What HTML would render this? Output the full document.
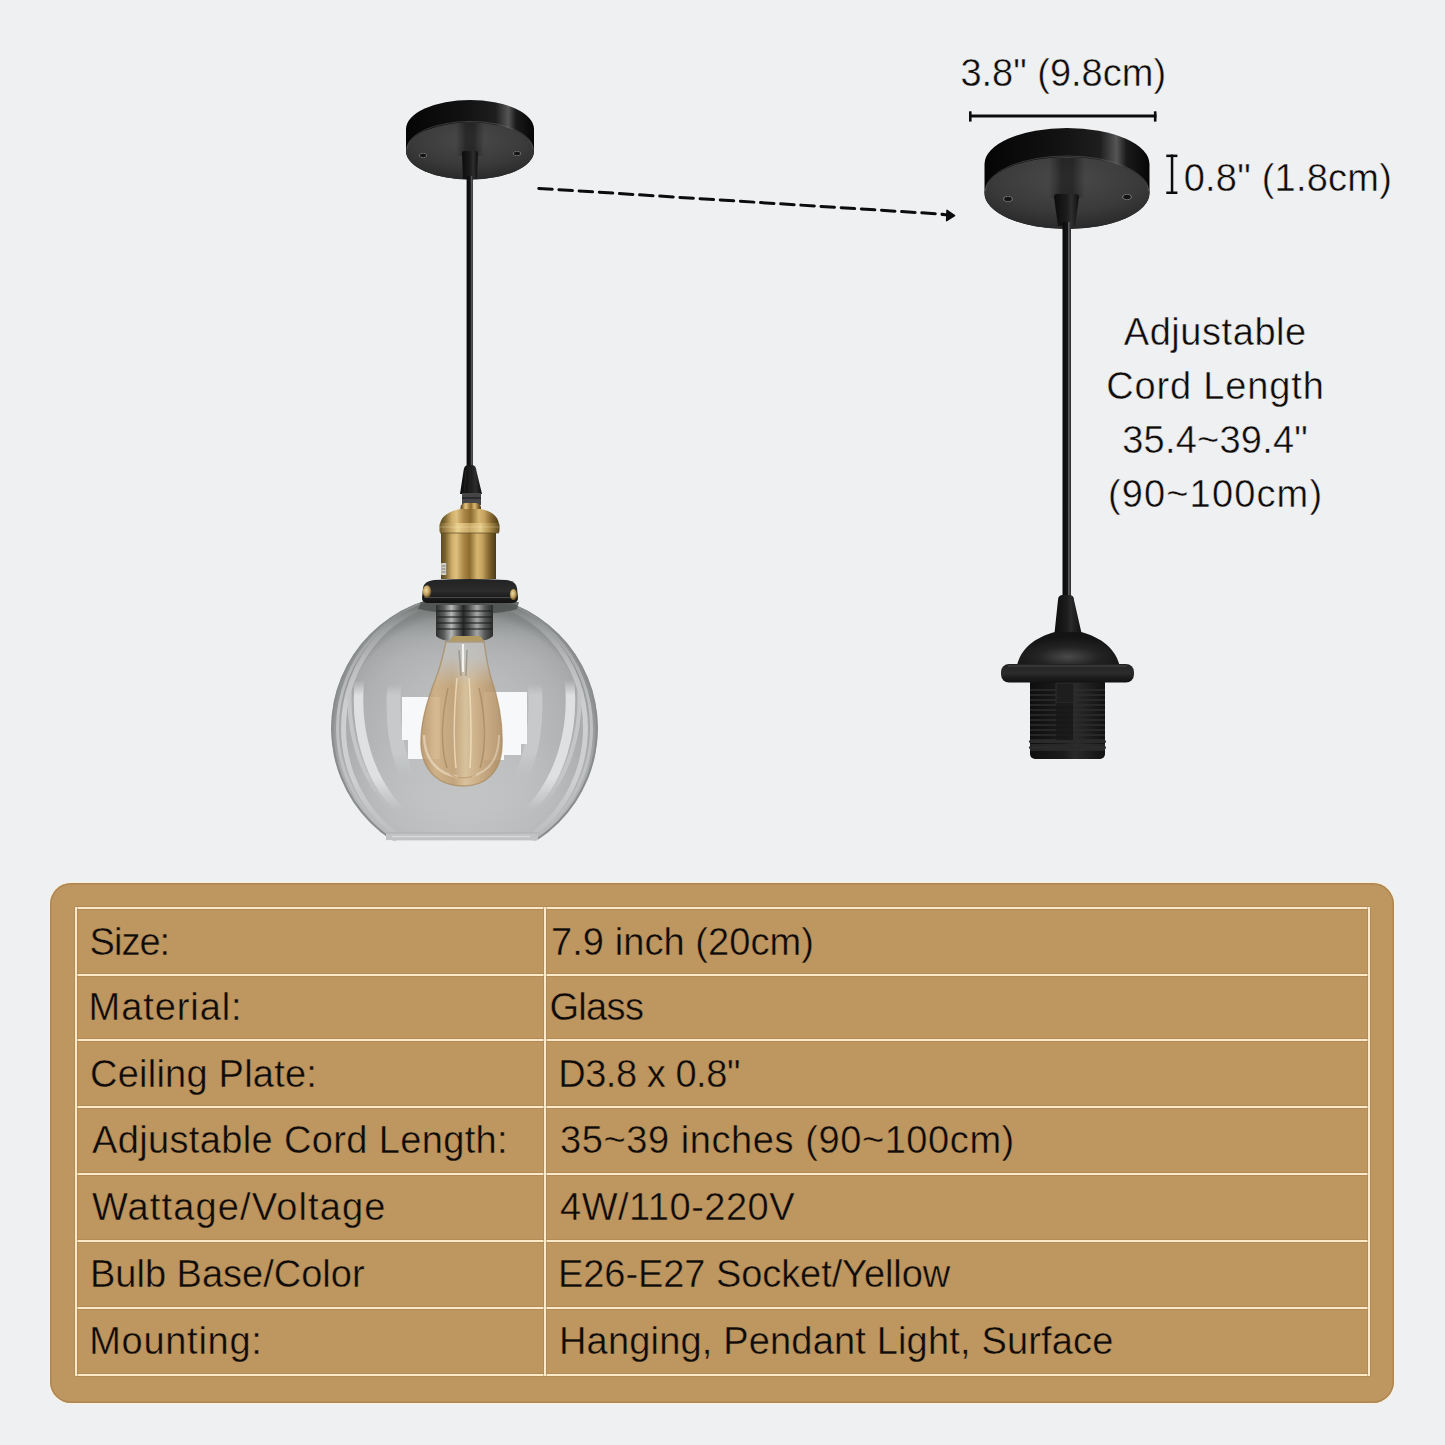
<!DOCTYPE html>
<html><head><meta charset="utf-8"><title>Pendant Light Specifications</title>
<style>
html,body{margin:0;padding:0}
body{width:1445px;height:1445px;background:#eff0f2;position:relative;overflow:hidden;font-family:"Liberation Sans",sans-serif;color:#0e0b08}
#art{position:absolute;left:0;top:0}
.t{position:absolute;font-size:38px;line-height:38px;white-space:pre;-webkit-text-stroke:0.45px #eff0f2;paint-order:normal}
.tb{-webkit-text-stroke:0.45px #be9660}
.panel{position:absolute;left:50px;top:883px;width:1344px;height:520px;border-radius:21px;background:#be9660;box-shadow:0 0 0 1px #fcf1dc,inset 0 0 0 1.5px rgba(160,122,74,.55)}
.hl{position:absolute;left:75px;width:1295px;height:2px;background:#fce9c8;box-shadow:0 -1px 0 rgba(165,128,80,.45),0 1px 0 rgba(165,128,80,.45)}
.vl{position:absolute;top:907px;width:2px;height:469px;background:#fce9c8;box-shadow:-1px 0 0 rgba(165,128,80,.45),1px 0 0 rgba(165,128,80,.45)}
</style></head>
<body>
<svg id="art" width="1445" height="1445" viewBox="0 0 1445 1445">
<defs>
<linearGradient id="band" x1="0" x2="1" y1="0" y2="0">
 <stop offset="0" stop-color="#050505"/><stop offset="0.45" stop-color="#121212"/>
 <stop offset="0.7" stop-color="#1e1e1e"/><stop offset="0.8" stop-color="#555"/>
 <stop offset="0.86" stop-color="#1a1a1a"/><stop offset="1" stop-color="#060606"/>
</linearGradient>
<radialGradient id="face" cx="0.5" cy="0.3" r="0.75">
 <stop offset="0" stop-color="#4a4a4a"/><stop offset="0.6" stop-color="#3a3a3a"/><stop offset="1" stop-color="#262626"/>
</radialGradient>
<linearGradient id="cord" x1="0" x2="1" y1="0" y2="0">
 <stop offset="0" stop-color="#0a0a0b"/><stop offset="0.6" stop-color="#141416"/>
 <stop offset="0.72" stop-color="#606062"/><stop offset="0.9" stop-color="#3a3a3c"/><stop offset="1" stop-color="#222"/>
</linearGradient>
<linearGradient id="grip" x1="0" x2="1" y1="0" y2="0">
 <stop offset="0" stop-color="#0c0c0c"/><stop offset="0.5" stop-color="#1c1c1c"/>
 <stop offset="0.7" stop-color="#2e2e2e"/><stop offset="1" stop-color="#0e0e0e"/>
</linearGradient>
<linearGradient id="brass" x1="0" x2="1" y1="0" y2="0">
 <stop offset="0" stop-color="#5a4822"/><stop offset="0.08" stop-color="#7a6430"/>
 <stop offset="0.2" stop-color="#cfae6a"/><stop offset="0.28" stop-color="#dfc07e"/>
 <stop offset="0.4" stop-color="#ae8a48"/><stop offset="0.52" stop-color="#8c6c30"/>
 <stop offset="0.66" stop-color="#d6b670"/><stop offset="0.75" stop-color="#c6a260"/>
 <stop offset="0.88" stop-color="#7e622a"/><stop offset="1" stop-color="#4a3a18"/>
</linearGradient>
<linearGradient id="ring" x1="0" x2="0" y1="0" y2="1">
 <stop offset="0" stop-color="#222"/><stop offset="0.5" stop-color="#2c2c2c"/><stop offset="0.75" stop-color="#1c1c1c"/><stop offset="1" stop-color="#121212"/>
</linearGradient>
<radialGradient id="glass" cx="0.5" cy="0.55" r="0.5">
 <stop offset="0" stop-color="#c1c3c4"/><stop offset="0.55" stop-color="#b7b9ba"/>
 <stop offset="0.8" stop-color="#afb1b2"/><stop offset="0.94" stop-color="#a6a8a9"/><stop offset="1" stop-color="#909294"/>
</radialGradient>
<linearGradient id="bulb" x1="0" x2="1" y1="0" y2="0">
 <stop offset="0" stop-color="#b0824a"/><stop offset="0.18" stop-color="#d2aa70"/>
 <stop offset="0.4" stop-color="#c39860"/><stop offset="0.55" stop-color="#e0c08c"/>
 <stop offset="0.75" stop-color="#c89e66"/><stop offset="1" stop-color="#a67a44"/>
</linearGradient>
<linearGradient id="chrome" x1="0" x2="1" y1="0" y2="0">
 <stop offset="0" stop-color="#2e3030"/><stop offset="0.14" stop-color="#5a5c5c"/>
 <stop offset="0.27" stop-color="#b6b8b8"/><stop offset="0.37" stop-color="#6a6c6c"/>
 <stop offset="0.48" stop-color="#262626"/><stop offset="0.58" stop-color="#505252"/>
 <stop offset="0.72" stop-color="#a6a8a8"/><stop offset="0.86" stop-color="#555757"/><stop offset="1" stop-color="#2a2c2c"/>
</linearGradient>
<linearGradient id="sock" x1="0" x2="1" y1="0" y2="0">
 <stop offset="0" stop-color="#0e0e0e"/><stop offset="0.45" stop-color="#1c1c1c"/>
 <stop offset="0.6" stop-color="#2a2a2a"/><stop offset="1" stop-color="#111"/>
</linearGradient>
<radialGradient id="dome" cx="0.5" cy="0.75" r="0.6">
 <stop offset="0" stop-color="#4a4a4a"/><stop offset="0.5" stop-color="#232323"/><stop offset="1" stop-color="#141414"/>
</radialGradient>
<linearGradient id="brass2" x1="0" x2="1" y1="0" y2="0">
 <stop offset="0" stop-color="#6e5a2c"/><stop offset="0.15" stop-color="#b89858"/>
 <stop offset="0.3" stop-color="#ead08e"/><stop offset="0.5" stop-color="#c8a866"/>
 <stop offset="0.68" stop-color="#e6cc8a"/><stop offset="0.85" stop-color="#a88a48"/><stop offset="1" stop-color="#5a4820"/>
</linearGradient>
<radialGradient id="screw" cx="0.4" cy="0.4" r="0.6">
 <stop offset="0" stop-color="#f0dca0"/><stop offset="0.6" stop-color="#c0a060"/><stop offset="1" stop-color="#6a5428"/>
</radialGradient>
<linearGradient id="gshade" x1="0" x2="0" y1="0" y2="1">
 <stop offset="0" stop-color="#4e5350" stop-opacity="0.9"/><stop offset="0.06" stop-color="#6a6f6c" stop-opacity="0.6"/>
 <stop offset="0.16" stop-color="#8a8e8c" stop-opacity="0.15"/><stop offset="0.25" stop-color="#9a9c9c" stop-opacity="0"/><stop offset="1" stop-color="#9a9c9c" stop-opacity="0"/>
</linearGradient>
<linearGradient id="shadow" x1="0" x2="1" y1="0" y2="0">
 <stop offset="0" stop-color="#111" stop-opacity="0"/><stop offset="0.35" stop-color="#111" stop-opacity="0.55"/>
 <stop offset="0.65" stop-color="#111" stop-opacity="0.55"/><stop offset="1" stop-color="#111" stop-opacity="0"/>
</linearGradient>
<radialGradient id="hole" cx="0.5" cy="0.5" r="0.5">
 <stop offset="0" stop-color="#111"/><stop offset="0.6" stop-color="#181818"/><stop offset="0.8" stop-color="#777"/><stop offset="1" stop-color="#444" stop-opacity="0"/>
</radialGradient>
<linearGradient id="bandfade" x1="0" x2="0" y1="0" y2="1">
 <stop offset="0" stop-color="#fff"/><stop offset="0.62" stop-color="#fff"/><stop offset="0.88" stop-color="#fff" stop-opacity="0.25"/><stop offset="1" stop-color="#fff" stop-opacity="0.1"/>
</linearGradient>
<mask id="bandmask" maskUnits="userSpaceOnUse" x="300" y="590" width="330" height="260"><rect x="300" y="595" width="330" height="246" fill="url(#bandfade)"/></mask>
<linearGradient id="fOuter" x1="0" x2="0" y1="0" y2="1">
 <stop offset="0" stop-color="#fff" stop-opacity="0"/><stop offset="0.25" stop-color="#fff" stop-opacity="0.6"/><stop offset="0.45" stop-color="#fff"/>
 <stop offset="0.75" stop-color="#fff"/><stop offset="1" stop-color="#fff" stop-opacity="0.2"/>
</linearGradient>
<linearGradient id="fArc" x1="0" x2="0" y1="0" y2="1">
 <stop offset="0" stop-color="#fff" stop-opacity="0"/><stop offset="0.12" stop-color="#fff"/><stop offset="0.75" stop-color="#fff"/><stop offset="1" stop-color="#fff" stop-opacity="0"/>
</linearGradient>
<mask id="mOuter" maskUnits="userSpaceOnUse" x="300" y="590" width="330" height="260"><rect x="300" y="600" width="330" height="240" fill="url(#fOuter)"/></mask>
<mask id="mArc" maskUnits="userSpaceOnUse" x="300" y="590" width="330" height="260"><rect x="300" y="680" width="330" height="130" fill="url(#fArc)"/></mask>
<mask id="mInner" maskUnits="userSpaceOnUse" x="300" y="590" width="330" height="260"><rect x="300" y="684" width="330" height="92" fill="url(#fArc)"/></mask>
<linearGradient id="glow" x1="0" x2="0" y1="0" y2="1">
 <stop offset="0" stop-color="#fff" stop-opacity="0"/><stop offset="0.6" stop-color="#fff" stop-opacity="0.12"/><stop offset="1" stop-color="#fff" stop-opacity="0.16"/>
</linearGradient>
<linearGradient id="fBulb" x1="0" x2="0" y1="0" y2="1">
 <stop offset="0" stop-color="#fff" stop-opacity="0"/><stop offset="0.12" stop-color="#fff" stop-opacity="0.15"/><stop offset="0.3" stop-color="#fff"/><stop offset="1" stop-color="#fff"/>
</linearGradient>
<mask id="mBulb" maskUnits="userSpaceOnUse" x="410" y="640" width="100" height="150"><rect x="410" y="640" width="100" height="150" fill="url(#fBulb)"/></mask>
<clipPath id="gclip"><rect x="300" y="560" width="330" height="280.3"/></clipPath>
<clipPath id="gin"><circle cx="464.5" cy="728.3" r="133.4"/></clipPath>
</defs>

<!-- LEFT canopy -->
<path d="M406,129 A64,29 0 0 1 534,129 L534,151 A64,28.5 0 0 1 406,151 Z" fill="url(#band)"/>
<ellipse cx="470" cy="151" rx="64" ry="28.5" fill="url(#face)"/>
<path d="M407,149 A63,27.5 0 0 1 533,149" fill="none" stroke="#6a6a6a" stroke-width="0.8" opacity="0.6"/>
<path d="M456,123 L484,123 L484,156 L456,156 Z" fill="url(#shadow)"/>
<ellipse cx="423" cy="155.5" rx="4.5" ry="2.8" fill="url(#hole)"/>
<ellipse cx="517" cy="153.5" rx="4.5" ry="2.8" fill="url(#hole)"/>
<path d="M462,153 Q462,151 464,151 L476,151 Q478,151 478,153 L477,179 L463,179 Z" fill="url(#grip)"/>
<rect x="466.6" y="176" width="6.3" height="292" fill="url(#cord)"/>

<!-- LEFT lamp fixture -->
<path d="M463.5,471 Q464,465 468,465 L472,465 Q476,465 476.5,471 L482,494 L460,494 Z" fill="url(#grip)"/>
<g stroke="#2c2c2c" stroke-width="0.8" opacity="0.8"><line x1="466" y1="470" x2="464" y2="492"/><line x1="470" y1="468" x2="470" y2="492"/><line x1="474" y1="470" x2="476" y2="492"/></g>
<rect x="462" y="493" width="19" height="12" fill="#454547"/>
<rect x="462" y="497" width="19" height="2" fill="#2a2a2c"/>
<path d="M460.5,512 L460.5,507 Q461,503 466,503 L475,503 Q480,503 481,507 L481,512 Z" fill="url(#brass)"/>
<path d="M460,509 C450,511 441,516 440,524 L499,524 C498,516 491,511 481,509 Z" fill="url(#brass)"/>
<rect x="441" y="531" width="55" height="48" fill="url(#brass)"/>
<rect x="439.5" y="523" width="60" height="10" rx="2" fill="url(#brass2)"/>
<line x1="440" y1="527" x2="499" y2="527" stroke="#fff3c8" stroke-width="0.8" opacity="0.35"/>
<line x1="440" y1="533" x2="499" y2="533" stroke="#5a4820" stroke-width="1" opacity="0.7"/>
<rect x="441.2" y="563" width="5" height="12" fill="#d2d0c8"/>
<g stroke="#555" stroke-width="0.7"><line x1="442" y1="566" x2="445.5" y2="566"/><line x1="442" y1="569" x2="445.5" y2="569"/><line x1="442" y1="572" x2="445.5" y2="572"/></g>

<!-- globe -->
<g clip-path="url(#gclip)">
 <circle cx="464.5" cy="728.3" r="133.4" fill="url(#glass)"/>
 <circle cx="464.5" cy="728.3" r="133.4" fill="url(#gshade)"/>
 <rect x="330" y="740" width="270" height="101" fill="url(#glow)" clip-path="url(#gin)"/>
 <g clip-path="url(#gin)" fill="none">
  <circle cx="464.5" cy="728.3" r="132.4" stroke="#8a8d8e" stroke-width="2.2"/>
  <g mask="url(#mOuter)">
   <ellipse cx="464.5" cy="728" rx="121" ry="129" stroke="#cdcfd0" stroke-width="5"/>
   <ellipse cx="464.5" cy="728" rx="127" ry="131" stroke="#bfc1c2" stroke-width="3"/>
  </g>
  <g mask="url(#mArc)">
   <ellipse cx="464.5" cy="700" rx="106" ry="140" stroke="#dfe0e1" stroke-width="9.5"/>
   <ellipse cx="464.5" cy="700" rx="115" ry="142" stroke="#c4c6c7" stroke-width="4"/>
  </g>
  <g mask="url(#mInner)">
   <ellipse cx="464.5" cy="705" rx="71" ry="120" stroke="#c7c9ca" stroke-width="14"/>
  </g>
 </g>
 <!-- reflections -->
 <path d="M402,697 L440,697 L440,759 L408,759 L408,740 L402,740 Z" fill="#f7f8f9"/>
 <path d="M484,692 L527,692 L527,744 L521,744 L521,755 L504,755 L504,760 L484,760 Z" fill="#f7f8f9"/>
 <rect x="386" y="833" width="152" height="7.3" fill="#c0c2c3"/>
 <line x1="392" y1="836.5" x2="530" y2="836.5" stroke="#d6d8d9" stroke-width="1.5"/>
 <line x1="386" y1="833" x2="538" y2="833" stroke="#aeb0b1" stroke-width="1"/>
</g>
<!-- glass neck + socket inside globe -->
<path d="M421,602 L519,602 L517,609 Q500,614 470,614 Q440,614 418,609 Z" fill="#4a4f4c" opacity="0.8"/>
<path d="M436,605 L493,605 L493,636 Q488,641 478,641 L452,641 Q441,641 436,636 Z" fill="url(#chrome)"/>
<g stroke="#1c1c1c" stroke-width="1.3" opacity="0.75">
 <line x1="437" y1="611" x2="492" y2="611"/><line x1="437" y1="617" x2="492" y2="617"/>
 <line x1="437" y1="623" x2="492" y2="623"/><line x1="437" y1="629" x2="492" y2="629"/>
</g>
<path d="M453,636 L480,636 L484,641 L449,641 Z" fill="#b39a62"/>
<!-- bulb -->
<path d="M446,642 L484,642 C486,656 488,668 491,678 C498,698 503,722 502,746 C501,772 486,786 463,786 C440,786 423,772 421,746 C420,722 428,698 436,678 C440,668 443,656 446,642 Z" fill="#c9cbcb" opacity="0.55"/>
<path d="M446,642 L484,642 C486,656 488,668 491,678 C498,698 503,722 502,746 C501,772 486,786 463,786 C440,786 423,772 421,746 C420,722 428,698 436,678 C440,668 443,656 446,642 Z" fill="url(#bulb)" opacity="0.7" mask="url(#mBulb)"/>
<path d="M446,642 L484,642 C486,656 488,668 491,678 C498,698 503,722 502,746 C501,772 486,786 463,786 C440,786 423,772 421,746 C420,722 428,698 436,678 C440,668 443,656 446,642 Z" fill="none" stroke="#a88a5e" stroke-width="1.4" opacity="0.7"/>
<path d="M424,735 C424,760 438,774 458,777" fill="none" stroke="#f4e8d2" stroke-width="2.5" opacity="0.55"/>
<path d="M499,735 C499,760 488,772 472,776" fill="none" stroke="#f4e8d2" stroke-width="2" opacity="0.45"/>
<g fill="none" stroke-width="1.5">
 <path d="M463,644 L463,672" stroke="#ffffff" stroke-width="2.2" opacity="0.8"/>
 <path d="M459,650 L461,676 M467,650 L466,676" stroke="#7e7e7c" opacity="0.6"/>
 <path d="M457,678 C454,710 453,740 456,768" stroke="#f3e3c4" opacity="0.75"/>
 <path d="M469,678 C471,710 472,740 470,768" stroke="#f3e3c4" opacity="0.75"/>
 <path d="M448,688 C442,715 440,745 447,768" stroke="#9e7e52" opacity="0.55"/>
 <path d="M479,688 C485,715 487,745 480,768" stroke="#9e7e52" opacity="0.55"/>
 <path d="M450,774 C457,779 469,779 476,774" stroke="#b89466" opacity="0.6"/>
</g>

<!-- black ring -->
<path d="M423,588 Q424,581 434,580 Q470,578 506,580 Q516,581 517,588 L518,598 Q518,603 512,603 L428,603 Q422,603 422,598 Z" fill="url(#ring)"/>
<line x1="424" y1="597.5" x2="516" y2="597.5" stroke="#4a4a4a" stroke-width="1.2"/>
<ellipse cx="427" cy="591.5" rx="4.2" ry="6.2" fill="url(#screw)"/>
<ellipse cx="513.5" cy="594.5" rx="3.5" ry="5.5" fill="url(#screw)"/>

<!-- RIGHT canopy -->
<path d="M984.5,164 A82.5,36 0 0 1 1149.5,164 L1149.5,193 A82.5,36 0 0 1 984.5,193 Z" fill="url(#band)"/>
<ellipse cx="1067" cy="193" rx="82.5" ry="36" fill="url(#face)"/>
<path d="M985.5,191 A81.5,35 0 0 1 1148.5,191" fill="none" stroke="#6a6a6a" stroke-width="0.8" opacity="0.6"/>
<path d="M1049,158 L1085,158 L1085,198 L1049,198 Z" fill="url(#shadow)"/>
<ellipse cx="1008" cy="199" rx="5.5" ry="3.4" fill="url(#hole)"/>
<ellipse cx="1127" cy="197" rx="5.5" ry="3.4" fill="url(#hole)"/>
<path d="M1054,197 Q1054,194 1057,194 L1076,194 Q1079,194 1079,197 L1075,226 L1058,226 Z" fill="url(#grip)"/>
<rect x="1062.5" y="222" width="8.5" height="376" fill="url(#cord)"/>

<!-- RIGHT socket -->
<path d="M1058,600 Q1058,595 1063,595 L1069,595 Q1074,595 1074,600 L1081.5,633 L1054.5,633 Z" fill="url(#sock)"/>
<path d="M1055,632 C1040,636 1022,645 1017,665 L1119.5,665 C1114,645 1096,636 1081,632 Z" fill="url(#dome)"/>
<rect x="1030" y="678" width="75" height="81" rx="5" fill="url(#sock)"/>
<g stroke="#2e2e2e" stroke-width="1.6">
 <line x1="1030" y1="690" x2="1105" y2="690"/><line x1="1030" y1="695" x2="1105" y2="695"/>
 <line x1="1030" y1="700" x2="1105" y2="700"/><line x1="1030" y1="705" x2="1105" y2="705"/>
 <line x1="1030" y1="710" x2="1105" y2="710"/><line x1="1030" y1="715" x2="1105" y2="715"/>
 <line x1="1030" y1="720" x2="1105" y2="720"/><line x1="1030" y1="725" x2="1105" y2="725"/>
 <line x1="1030" y1="730" x2="1105" y2="730"/><line x1="1030" y1="735" x2="1105" y2="735"/>
 <line x1="1030" y1="740" x2="1105" y2="740"/><line x1="1030" y1="745" x2="1105" y2="745"/>
 <line x1="1030" y1="750" x2="1105" y2="750"/>
</g>
<rect x="1056" y="683" width="18" height="20" fill="#1e1e1e" stroke="#333" stroke-width="0.8"/>
<rect x="1056" y="703" width="17" height="38" fill="#181818" opacity="0.8"/>
<rect x="1029" y="740" width="77" height="3" rx="1.5" fill="#2a2a2a"/>
<rect x="1029" y="746" width="77" height="3" rx="1.5" fill="#2a2a2a"/>
<rect x="1001" y="664" width="133" height="18.5" rx="8" fill="url(#ring)"/>
<line x1="1008" y1="666" x2="1127" y2="666" stroke="#3c3c3c" stroke-width="1.5"/>

<!-- dimension marks -->
<rect x="969" y="114.5" width="187.5" height="3" fill="#0c0c0c"/>
<rect x="969" y="111.3" width="2.6" height="10.3" fill="#0c0c0c"/>
<rect x="1153.9" y="111.3" width="2.6" height="10.3" fill="#0c0c0c"/>
<rect x="1170.8" y="154.6" width="2.5" height="39.4" fill="#0c0c0c"/>
<rect x="1166.3" y="154.6" width="11.1" height="2.5" fill="#0c0c0c"/>
<rect x="1166.3" y="191.5" width="11.1" height="2.5" fill="#0c0c0c"/>

<!-- dashed arrow -->
<line x1="538.8" y1="188.4" x2="943" y2="214.2" stroke="#0c0c0c" stroke-width="3" stroke-linecap="round" stroke-dasharray="13.5 6.7"/>
<line x1="942.5" y1="214.5" x2="949" y2="214.9" stroke="#0c0c0c" stroke-width="3" stroke-linecap="round"/>
<path d="M947,210.3 L954.6,215.5 L946.6,220.7 Z" fill="#0c0c0c" stroke="#0c0c0c" stroke-width="1.5" stroke-linejoin="round"/>
</svg>

<div class="panel"></div>
<div class="hl" style="top:907px"></div>
<div class="hl" style="top:974px"></div>
<div class="hl" style="top:1039px"></div>
<div class="hl" style="top:1106px"></div>
<div class="hl" style="top:1173px"></div>
<div class="hl" style="top:1240px"></div>
<div class="hl" style="top:1307px"></div>
<div class="hl" style="top:1374px"></div>
<div class="vl" style="left:75px"></div>
<div class="vl" style="left:544px"></div>
<div class="vl" style="left:1368px"></div>

<div class="t tb" style="left:89.6px;top:923px;letter-spacing:-1.0px">Size:</div>
<div class="t tb" style="left:88.6px;top:988px;letter-spacing:0.92px">Material:</div>
<div class="t tb" style="left:90px;top:1055px;letter-spacing:0.23px">Ceiling Plate:</div>
<div class="t tb" style="left:92px;top:1121px;letter-spacing:0.36px">Adjustable Cord Length:</div>
<div class="t tb" style="left:92px;top:1188px;letter-spacing:1.14px">Wattage/Voltage</div>
<div class="t tb" style="left:90px;top:1255px;letter-spacing:0px">Bulb Base/Color</div>
<div class="t tb" style="left:89.2px;top:1322px;letter-spacing:0.72px">Mounting:</div>

<div class="t tb" style="left:551px;top:923px;letter-spacing:0.07px">7.9 inch (20cm)</div>
<div class="t tb" style="left:549.4px;top:988px;letter-spacing:-0.65px">Glass</div>
<div class="t tb" style="left:558.2px;top:1055px;letter-spacing:-0.45px">D3.8 x 0.8"</div>
<div class="t tb" style="left:560px;top:1121px;letter-spacing:0.58px">35~39 inches (90~100cm)</div>
<div class="t tb" style="left:560px;top:1188px;letter-spacing:0.5px">4W/110-220V</div>
<div class="t tb" style="left:558px;top:1255px;letter-spacing:-0.07px">E26-E27 Socket/Yellow</div>
<div class="t tb" style="left:559px;top:1322px;letter-spacing:0.17px">Hanging, Pendant Light, Surface</div>

<div class="t" style="left:960.4px;top:54px;letter-spacing:0px">3.8" (9.8cm)</div>
<div class="t" style="left:1183.7px;top:159px;letter-spacing:0.23px">0.8" (1.8cm)</div>
<div class="t" style="left:1065.275px;width:300px;text-align:center;top:313px;letter-spacing:0.55px">Adjustable</div>
<div class="t" style="left:1065.425px;width:300px;text-align:center;top:367px;letter-spacing:0.85px">Cord Length</div>
<div class="t" style="left:1065.11px;width:300px;text-align:center;top:421px;letter-spacing:0.22px">35.4~39.4"</div>
<div class="t" style="left:1065.575px;width:300px;text-align:center;top:475px;letter-spacing:1.15px">(90~100cm)</div>
</body></html>
